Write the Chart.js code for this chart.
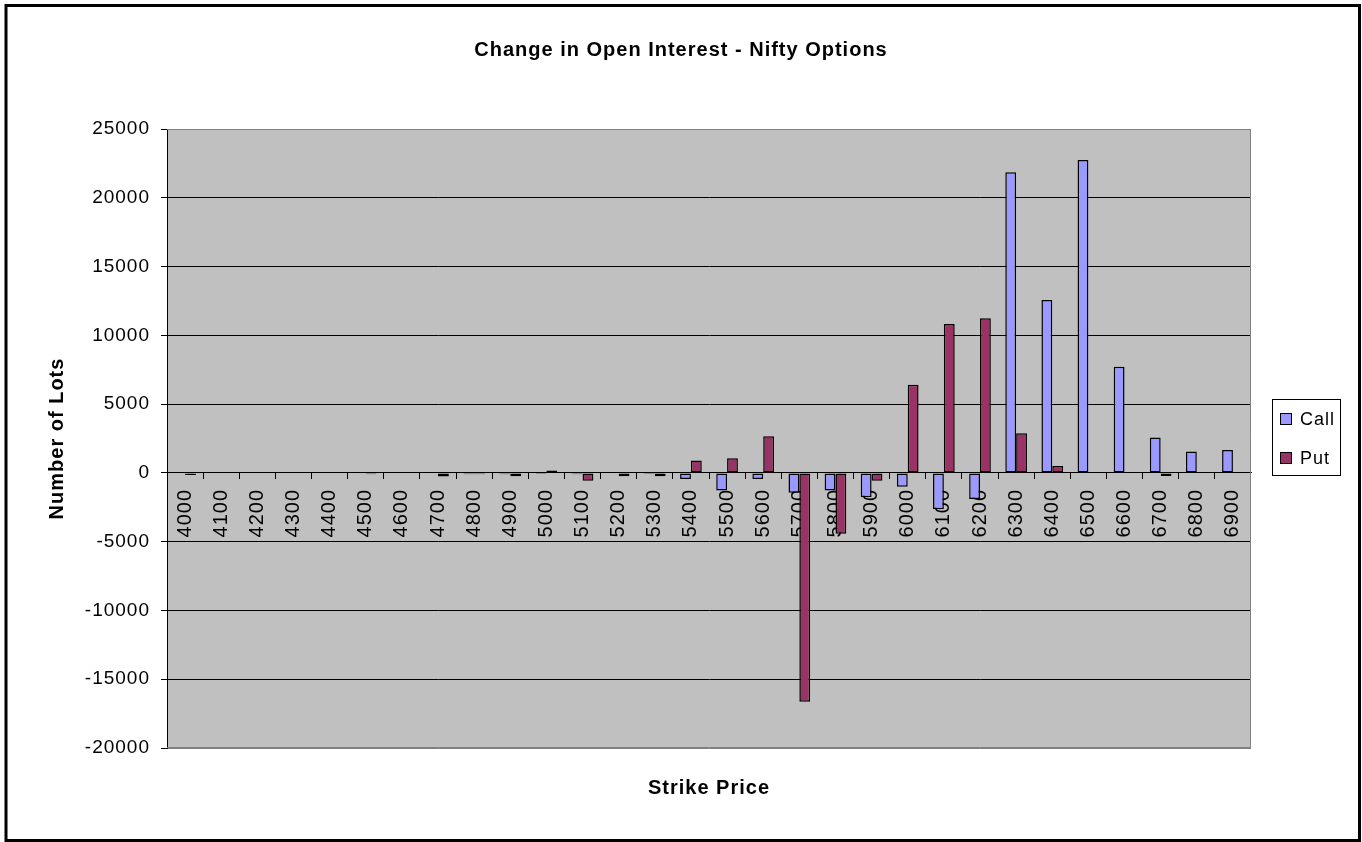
<!DOCTYPE html>
<html>
<head>
<meta charset="utf-8">
<script src="https://cdn.jsdelivr.net/npm/chart.js@4.4.1/dist/chart.umd.min.js"></script>
<style>
html,body{margin:0;padding:0;background:#fff;}
canvas{display:block;}
</style>
</head>
<body>
<canvas id="c" width="1362" height="842"></canvas>
<script>
const strikePrices = ['4000','4100','4200','4300','4400','4500','4600','4700','4800','4900',
  '5000','5100','5200','5300','5400','5500','5600','5700','5800','5900',
  '6000','6100','6200','6300','6400','6500','6600','6700','6800','6900'];
const callChange = [0, 0, 0, 0, 0, 0, 0, 0, -100, -100,
  -80, -100, 0, -80, -440, -1280, -440, -1450, -1280, -1770,
  -1000, -2640, -1890, 21850, 12570, 22750, 7725, 2570, 1550, 1670];
const putChange = [-150, 0, 0, 0, 0, -100, 0, -270, -100, -250,
  170, -580, -250, -250, 900, 1070, 2660, -16640, -4430, -580,
  6400, 10830, 11240, 2880, 500, 0, 0, -230, 0, 0];
const yTickValues = [-20000, -15000, -10000, -5000, 0, 5000, 10000, 15000, 20000, 25000];
const seriesNames = ['Call', 'Put'];
const seriesColors = ['#9999FF', '#993366'];

const FONT = "'Liberation Sans', Arial, sans-serif";
Chart.defaults.font.family = FONT;
Chart.defaults.color = '#000';

const framePlugin = {
  id: 'frame',
  beforeLayout(chart) { chart.ctx.letterSpacing = '1px'; },
  beforeDraw(chart) {
    const ctx = chart.ctx, a = chart.chartArea;
    ctx.letterSpacing = '1px';
    ctx.save();
    ctx.fillStyle = '#fff';
    ctx.fillRect(0, 0, chart.width, chart.height);
    ctx.fillStyle = '#C0C0C0';
    ctx.fillRect(a.left, a.top, a.right - a.left, a.bottom - a.top);
    ctx.restore();
  },
  beforeDatasetsDraw(chart) {
    const ctx = chart.ctx, a = chart.chartArea;
    ctx.save();
    ctx.strokeStyle = '#808080';
    ctx.lineWidth = 1;
    ctx.beginPath();
    ctx.moveTo(a.left, a.top + 0.5);
    ctx.lineTo(a.right - 0.5, a.top + 0.5);
    ctx.lineTo(a.right - 0.5, a.bottom - 0.5);
    ctx.lineTo(a.left, a.bottom - 0.5);
    ctx.stroke();
    ctx.restore();
  },
  afterDraw(chart) {
    const ctx = chart.ctx, a = chart.chartArea;
    ctx.save();
    ctx.letterSpacing = '1px';
    // legend box
    const lx = a.right + 21, ly = 399;
    ctx.strokeStyle = '#000';
    ctx.lineWidth = 1;
    ctx.strokeRect(lx + 0.5, ly + 0.5, 68, 76);
    ctx.font = '18px ' + FONT;
    ctx.textBaseline = 'middle';
    ctx.textAlign = 'left';
    chart.data.datasets.forEach((ds, i) => {
      const cy = ly + 20 + i * 39;
      ctx.fillStyle = ds.backgroundColor;
      ctx.fillRect(lx + 8, cy - 6, 12, 12);
      ctx.strokeStyle = '#000';
      ctx.strokeRect(lx + 8.5, cy - 5.5, 11, 11);
      ctx.fillStyle = '#000';
      ctx.fillText(ds.label, lx + 28, cy + 1);
    });
    // outer border
    ctx.lineWidth = 3;
    ctx.strokeStyle = '#000';
    ctx.strokeRect(6, 5.5, 1353.5, 835);
    ctx.restore();
  }
};

new Chart(document.getElementById('c'), {
  type: 'bar',
  data: {
    labels: strikePrices,
    datasets: [
      { label: seriesNames[0], data: callChange, backgroundColor: seriesColors[0] },
      { label: seriesNames[1], data: putChange, backgroundColor: seriesColors[1] }
    ]
  },
  options: {
    responsive: false,
    animation: false,
    devicePixelRatio: 1,
    layout: { padding: 0 },
    datasets: {
      bar: {
        borderColor: '#000',
        borderWidth: 1.5,
        borderSkipped: false,
        categoryPercentage: 0.6,
        barPercentage: 1.0
      }
    },
    plugins: {
      legend: { display: false },
      tooltip: { enabled: false },
      title: {
        display: true,
        text: 'Change in Open Interest - Nifty Options',
        color: '#000',
        font: { size: 20, weight: 'bold' },
        padding: { top: 38.5, bottom: 66.5 }
      },
      subtitle: {
        display: true,
        position: 'bottom',
        fullSize: false,
        text: 'Strike Price',
        color: '#000',
        font: { size: 20, weight: 'bold' },
        padding: { top: 28, bottom: 42 }
      }
    },
    scales: {
      x: {
        type: 'category',
        position: { y: 0 },
        offset: true,
        grid: {
          display: true,
          drawOnChartArea: false,
          drawTicks: true,
          tickLength: 6,
          color: '#000',
          offset: true
        },
        border: { display: true, color: '#000', width: 1 },
        ticks: {
          autoSkip: false,
          minRotation: 90,
          maxRotation: 90,
          padding: 10,
          color: '#000',
          font: { size: 20 }
        }
      },
      y: {
        min: -20000,
        max: 25000,
        afterBuildTicks: s => { s.ticks = yTickValues.map(v => ({ value: v })); },
        afterFit: s => { s.width = 167; },
        grid: {
          color: c => (c.tick && (c.tick.value === 25000 || c.tick.value === -20000)) ? '#808080' : '#000',
          tickColor: '#000',
          tickLength: 6,
          drawTicks: true
        },
        border: { display: true, color: '#000', width: 1 },
        ticks: {
          padding: 11,
          color: '#000',
          font: { size: 19 },
          callback: v => String(v)
        },
        title: {
          display: true,
          text: 'Number of Lots',
          color: '#000',
          font: { size: 20, weight: 'bold' },
          padding: { top: 45, bottom: 0 }
        }
      },
      legendSpace: {
        type: 'linear',
        position: 'right',
        display: true,
        grid: { display: false, drawTicks: false },
        border: { display: false },
        ticks: { display: false },
        afterFit: s => { s.width = 111; }
      }
    }
  },
  plugins: [framePlugin]
});
</script>
</body>
</html>
